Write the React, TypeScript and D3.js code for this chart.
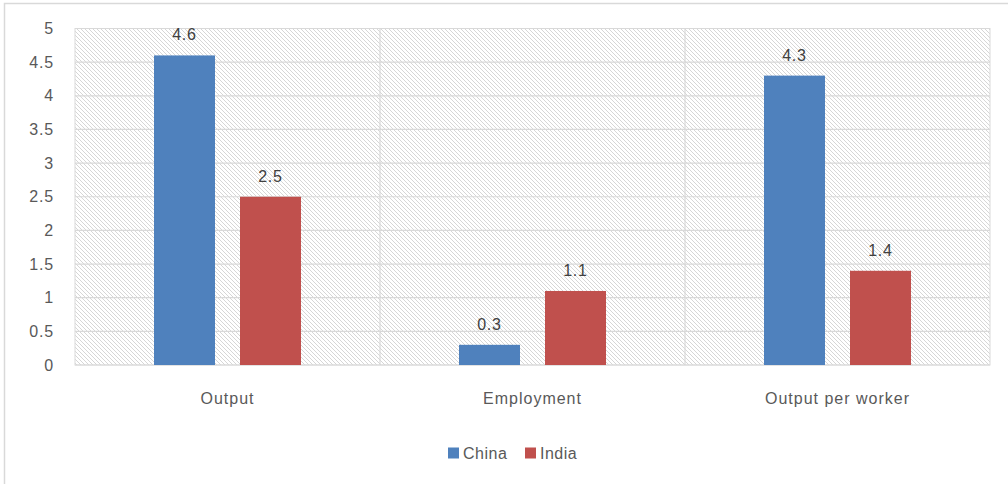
import React from "react";
import * as d3 from "d3";

const categories = ["Output", "Employment", "Output per worker"];
const seriesNames = ["China", "India"];
const chinaValues = [4.6, 0.3, 4.3];
const indiaValues = [2.5, 1.1, 1.4];
const yTicks = [0, 0.5, 1, 1.5, 2, 2.5, 3, 3.5, 4, 4.5, 5];
const colors = ["#4F81BD", "#C0504D"];

export default function App() {
  const W = 1008, H = 484;
  const left = 75, right = 990, top = 28.5, bottom = 365;
  const x = d3.scaleBand<string>().domain(categories).range([left, right]).paddingInner(0).paddingOuter(0);
  const bw = x.bandwidth();
  const inner = d3.scaleBand<string>().domain(seriesNames).range([79, bw - 79]).paddingInner(25 / 86).paddingOuter(0);
  const y = d3.scaleLinear().domain([0, 5]).range([bottom, top]);
  const series = [chinaValues, indiaValues];
  const font = "'Liberation Sans', Arial, sans-serif";
  return (
    <svg width={W} height={H} style={{ position: "absolute", left: 0, top: 0 }} fontFamily={font}>
      <defs>
        <pattern id="hatch" width="4" height="4" patternUnits="userSpaceOnUse">
          <rect width="4" height="4" fill="#fff" />
          <path d="M-1,-1 L5,5 M-1,3 L1,5 M3,-1 L5,1" stroke="#d6d6d6" strokeWidth="1" />
        </pattern>
      </defs>
      <rect x={0} y={0} width={W} height={H} fill="#fff" />
      <rect x={4.5} y={3.5} width={W + 10} height={H + 10} fill="none" stroke="#d9d9d9" strokeWidth={1.5} />
      <rect x={left} y={top} width={right - left} height={bottom - top} fill="url(#hatch)" stroke="#d9d9d9" />
      {yTicks.map((t) => (
        <line key={t} x1={left} x2={right} y1={y(t)} y2={y(t)} stroke="#d9d9d9" strokeWidth={1.2} />
      ))}
      {categories.slice(1).map((c) => (
        <line key={c} x1={x(c)} x2={x(c)} y1={top} y2={bottom} stroke="#d9d9d9" strokeWidth={1.2} />
      ))}
      {yTicks.map((t) => (
        <text key={t} x={54} y={y(t)} dy="0.35em" textAnchor="end" fontSize={16} letterSpacing={0.8} fill="#595959">{t}</text>
      ))}
      {categories.map((c, ci) =>
        seriesNames.map((s, si) => {
          const v = series[si][ci];
          const bx = (x(c) as number) + (inner(s) as number);
          return (
            <g key={c + s}>
              <rect x={bx} y={y(v)} width={inner.bandwidth()} height={bottom - y(v)} fill={colors[si]} />
              <text x={bx + inner.bandwidth() / 2} y={y(v) - 15} textAnchor="middle" fontSize={16} letterSpacing={0.8} fill="#404040">{v}</text>
            </g>
          );
        })
      )}
      {categories.map((c) => (
        <text key={c} x={(x(c) as number) + bw / 2} y={398} dy="0.35em" textAnchor="middle" fontSize={16} letterSpacing={1} fill="#595959">{c}</text>
      ))}
      {seriesNames.map((s, i) => {
        const lx = i === 0 ? 448 : 525;
        return (
          <g key={s}>
            <rect x={lx} y={447.5} width={11} height={11} fill={colors[i]} />
            <text x={lx + 15} y={453} dy="0.35em" fontSize={16} letterSpacing={0.5} fill="#595959">{s}</text>
          </g>
        );
      })}
    </svg>
  );
}
